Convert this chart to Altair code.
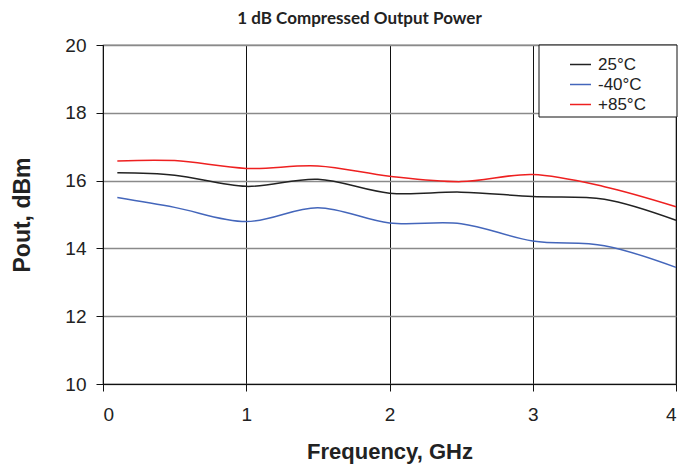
import altair as alt
import pandas as pd

freq = [0.1, 0.5, 1.0, 1.5, 2.0, 2.5, 3.0, 3.5, 4.0]
p_25 = [16.23, 16.16, 15.83, 16.04, 15.63, 15.66, 15.53, 15.45, 14.83]
p_m40 = [15.50, 15.21, 14.79, 15.20, 14.75, 14.73, 14.22, 14.08, 13.44]
p_85 = [16.58, 16.59, 16.36, 16.43, 16.13, 15.97, 16.18, 15.82, 15.23]
series = ["25°C", "-40°C", "+85°C"]
colors = ["#222222", "#4466bb", "#ee2020"]

rows = []
for name, vals in zip(series, [p_25, p_m40, p_85]):
    for f, v in zip(freq, vals):
        rows.append({"f": f, "p": v, "s": name})
df = pd.DataFrame(rows)

AX = "Liberation Sans"

lines = alt.Chart(df).mark_line(interpolate="catmull-rom", strokeWidth=1.5).encode(
    x=alt.X("f:Q", scale=alt.Scale(domain=[0, 4], nice=False),
            axis=alt.Axis(values=[0, 1, 2, 3, 4], format="d", title="Frequency, GHz",
                          grid=True, gridColor="#111111", gridWidth=1,
                          tickSize=7, tickColor="#111111", domainColor="#111111",
                          labelPadding=14, labelFontSize=19, labelFont=AX, labelColor="#222222",
                          titleFont=AX, titleFontSize=22, titleFontWeight="bold",
                          titleColor="#222222", titlePadding=17)),
    y=alt.Y("p:Q", scale=alt.Scale(domain=[10, 20], nice=False),
            axis=alt.Axis(values=[10, 12, 14, 16, 18, 20], title="Pout, dBm",
                          grid=True, gridColor="#8a8a8a", gridWidth=1.5,
                          tickSize=7, tickColor="#111111", domainColor="#111111",
                          labelPadding=10, labelFontSize=19, labelFont=AX, labelColor="#222222",
                          titleFont=AX, titleFontSize=23, titleFontWeight="bold",
                          titleColor="#222222", titlePadding=30)),
    color=alt.Color("s:N", scale=alt.Scale(domain=series, range=colors),
                    legend=alt.Legend(title=None, orient="none", legendX=466, legendY=8,
                                      symbolType="stroke", symbolSize=441, symbolStrokeWidth=1.5,
                                      labelFont=AX, labelFontSize=17, labelColor="#222222",
                                      labelOffset=6, rowPadding=0, padding=0)),
)

box = alt.Chart(alt.Data(values=[{}])).mark_rect(fill="white", stroke="#111111", strokeWidth=1).encode(
    x=alt.value(436), x2=alt.value(574), y=alt.value(0), y2=alt.value(72)
)

chart = alt.layer(lines, box).properties(
    width=573, height=339,
    autosize=alt.AutoSizeParams(type="none"),
    padding={"left": 95, "top": 37, "right": 11, "bottom": 80},
    title=alt.TitleParams("1 dB Compressed Output Power", font="Lato", fontSize=17,
                          fontWeight="bold", color="#222222", offset=8, dx=-30),
).configure_view(stroke="#111111", strokeWidth=1.2)

chart.save("out.html", embed_options={"renderer": "svg", "actions": False})
